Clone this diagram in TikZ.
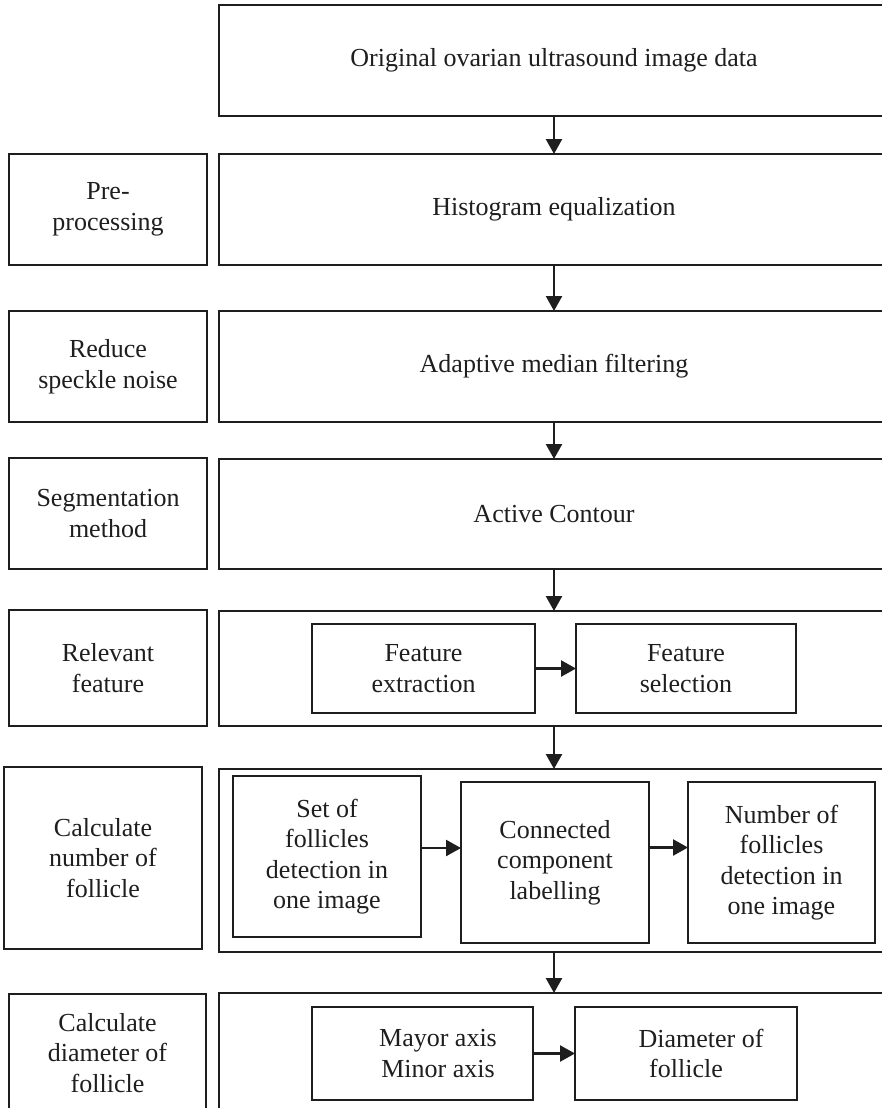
\documentclass[tikz,border=0pt]{standalone}
\usepackage{fontspec}
\setmainfont{Liberation Serif}
\usetikzlibrary{arrows.meta}
\definecolor{ink}{HTML}{1E1E1E}
\begin{document}
\begin{tikzpicture}[x=1pt,y=-1pt,
  box/.style={draw=ink, line width=2.4pt, rectangle, inner sep=0pt, outer sep=0pt,
    align=center, text=ink, font=\fontsize{26}{30.5}\selectfont},
  arr/.style={draw=ink, line width=2.4pt, -{Triangle[length=15pt,width=16pt]}}]
\useasboundingbox (0,0) rectangle (882,1108);
\clip (0,0) rectangle (882,1108);
% left column
\node[box, minimum width=198pt, minimum height=111pt] (L1) at (108,209.5) {Pre-\\processing};
\node[box, minimum width=198pt, minimum height=111pt] (L2) at (108,366.5) {Reduce\\speckle noise};
\node[box, minimum width=198pt, minimum height=111pt] (L3) at (108,513.5) {Segmentation\\method};
\node[box, minimum width=198pt, minimum height=116pt] (L4) at (108,668) {Relevant\\feature};
\node[box, minimum width=198pt, minimum height=182pt] (L5) at (103,858) {Calculate\\number of\\follicle};
\node[box, minimum width=197pt, minimum height=118pt] (L6) at (107.5,1053) {Calculate\\diameter of\\follicle};
% right column
\node[box, minimum width=670pt, minimum height=111pt] (R0) at (554,60.5) {Original ovarian ultrasound image data};
\node[box, minimum width=670pt, minimum height=111pt] (R1) at (554,209.5) {Histogram equalization};
\node[box, minimum width=670pt, minimum height=111pt] (R2) at (554,366.5) {Adaptive median filtering};
\node[box, minimum width=670pt, minimum height=110pt] (R3) at (554,514) {Active Contour};
\node[box, minimum width=670pt, minimum height=115pt] (R4) at (554,668.5) {};
\node[box, minimum width=670pt, minimum height=183pt] (R5) at (554,860.5) {};
\node[box, minimum width=670pt, minimum height=119pt] (R6) at (554,1052.5) {};
% inner boxes
\node[box, minimum width=223pt, minimum height=89pt] (FE) at (423.5,668.5) {Feature\\extraction};
\node[box, minimum width=220pt, minimum height=89pt] (FS) at (686,668.5) {Feature\\selection};
\node[box, minimum width=188pt, minimum height=161pt] (B1) at (327,856.5) {Set of\\follicles\\detection in\\one image};
\node[box, minimum width=188pt, minimum height=161pt] (B2) at (555,862.5) {Connected\\component\\labelling};
\node[box, minimum width=187pt, minimum height=161pt] (B3) at (781.5,862.5) {Number of\\follicles\\detection in\\one image};
\node[box, minimum width=221pt, minimum height=93pt] (M) at (422.5,1053.5) {\hspace*{31pt}Mayor axis\\\hspace*{31pt}Minor axis};
\node[box, minimum width=222pt, minimum height=93pt] (D) at (686,1053.5) {\hspace*{30pt}Diameter of\\follicle};
% vertical arrows
\draw[arr] (R0.south) -- (R1.north);
\draw[arr] (R1.south) -- (R2.north);
\draw[arr] (R2.south) -- (R3.north);
\draw[arr] (R3.south) -- (R4.north);
\draw[arr] (R4.south) -- (R5.north);
\draw[arr] (R5.south) -- (R6.north);
% horizontal arrows
\draw[arr] (FE.east) -- (FS.west);
\coordinate (a1) at ([yshift=8.5pt]B1.east);
\draw[arr] (a1) -- (a1 -| B2.west);
\coordinate (a2) at ([yshift=15pt]B2.east);
\draw[arr] (a2) -- (a2 -| B3.west);
\draw[arr] (M.east) -- (D.west);
\end{tikzpicture}
\end{document}
